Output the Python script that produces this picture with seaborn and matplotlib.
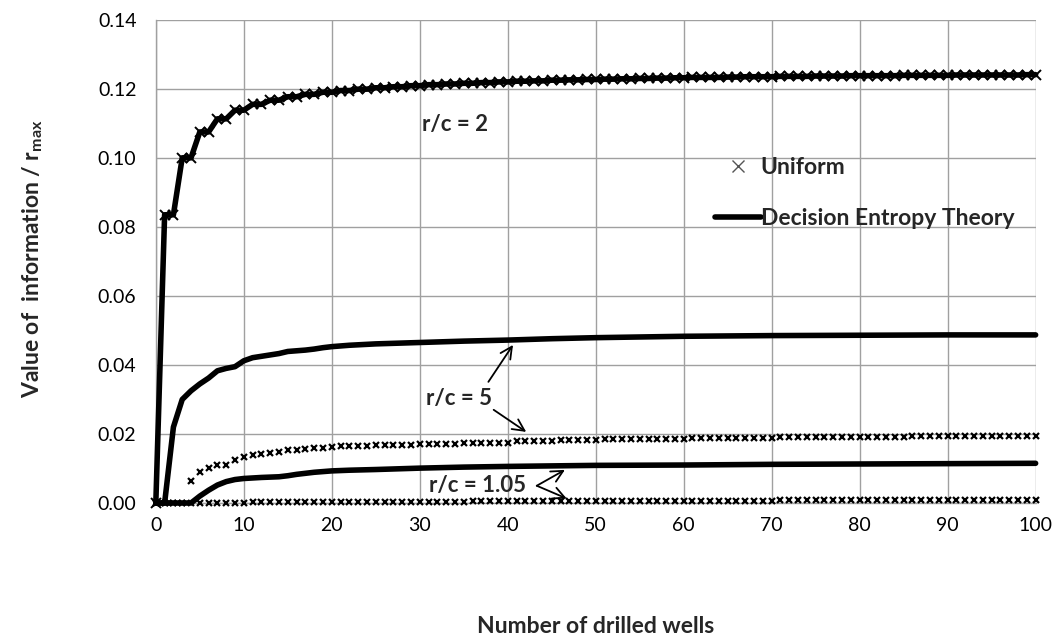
import matplotlib
matplotlib.use("Agg")
import matplotlib.pyplot as plt
import seaborn as sns
from matplotlib.lines import Line2D

# ---------------- data ----------------
wells = list(range(0, 101))

uniform_rc2 = [
    0.0000,
    0.0835, 0.0835, 0.1000, 0.1000, 0.1075, 0.1075, 0.1113, 0.1113, 0.1138, 0.1138,
    0.1155, 0.1155, 0.1167, 0.1167, 0.1177, 0.1177, 0.1184, 0.1184, 0.1190, 0.1190,
    0.1195, 0.1195, 0.1199, 0.1199, 0.1203, 0.1203, 0.1206, 0.1206, 0.1209, 0.1209,
    0.1212, 0.1212, 0.1214, 0.1214, 0.1216, 0.1216, 0.1218, 0.1218, 0.1220, 0.1220,
    0.1222, 0.1222, 0.1223, 0.1223, 0.1225, 0.1225, 0.1226, 0.1226, 0.1227, 0.1227,
    0.1228, 0.1228, 0.1229, 0.1229, 0.1230, 0.1230, 0.1231, 0.1231, 0.1232, 0.1232,
    0.1233, 0.1233, 0.1233, 0.1233, 0.1234, 0.1234, 0.1235, 0.1235, 0.1235, 0.1235,
    0.1236, 0.1236, 0.1236, 0.1236, 0.1237, 0.1237, 0.1237, 0.1237, 0.1238, 0.1238,
    0.1238, 0.1238, 0.1238, 0.1238, 0.1239, 0.1239, 0.1239, 0.1239, 0.1239, 0.1239,
    0.1240, 0.1240, 0.1240, 0.1240, 0.1240, 0.1240, 0.1240, 0.1240, 0.1241, 0.1241,
]

uniform_rc5 = [
    0.0000, 0.0000, 0.0000, 0.0000, 0.0064, 0.0091, 0.0102, 0.0110, 0.0110, 0.0125,
    0.0134, 0.0139, 0.0141, 0.0144, 0.0149, 0.0154, 0.0154, 0.0156, 0.0159, 0.0159,
    0.0161, 0.0165, 0.0165, 0.0165, 0.0165, 0.0167, 0.0167, 0.0167, 0.0167, 0.0167,
    0.0170, 0.0170, 0.0170, 0.0170, 0.0170, 0.0173, 0.0173, 0.0173, 0.0173, 0.0173,
    0.0173, 0.0180, 0.0180, 0.0180, 0.0180, 0.0180, 0.0182, 0.0182, 0.0182, 0.0182,
    0.0182, 0.0186, 0.0186, 0.0186, 0.0186, 0.0186, 0.0186, 0.0186, 0.0186, 0.0186,
    0.0186, 0.0188, 0.0188, 0.0188, 0.0188, 0.0188, 0.0188, 0.0188, 0.0188, 0.0188,
    0.0188, 0.0190, 0.0190, 0.0190, 0.0190, 0.0190, 0.0190, 0.0190, 0.0190, 0.0190,
    0.0190, 0.0190, 0.0190, 0.0190, 0.0190, 0.0190, 0.0193, 0.0193, 0.0193, 0.0193,
    0.0193, 0.0193, 0.0193, 0.0193, 0.0193, 0.0193, 0.0193, 0.0193, 0.0193, 0.0193,
    0.0193,
]

uniform_rc105 = [
    0.0000, 0.0000, 0.0000, 0.0000, 0.0000, 0.0000, 0.0000, 0.0000, 0.0000, 0.0000,
    0.0000, 0.0002, 0.0002, 0.0002, 0.0002, 0.0002, 0.0002, 0.0002, 0.0002, 0.0002,
    0.0002, 0.0004, 0.0004, 0.0004, 0.0004, 0.0004, 0.0004, 0.0004, 0.0004, 0.0004,
    0.0004, 0.0004, 0.0004, 0.0004, 0.0004, 0.0004, 0.0006, 0.0006, 0.0006, 0.0006,
    0.0006, 0.0006, 0.0006, 0.0006, 0.0006, 0.0006, 0.0006, 0.0006, 0.0006, 0.0006,
    0.0006, 0.0007, 0.0007, 0.0007, 0.0007, 0.0007, 0.0007, 0.0007, 0.0007, 0.0007,
    0.0007, 0.0007, 0.0007, 0.0007, 0.0007, 0.0007, 0.0007, 0.0007, 0.0007, 0.0007,
    0.0007, 0.0008, 0.0008, 0.0008, 0.0008, 0.0008, 0.0008, 0.0008, 0.0008, 0.0008,
    0.0008, 0.0008, 0.0008, 0.0008, 0.0008, 0.0008, 0.0008, 0.0008, 0.0008, 0.0008,
    0.0008, 0.0008, 0.0008, 0.0008, 0.0008, 0.0008, 0.0008, 0.0008, 0.0008, 0.0008,
    0.0008,
]

# Decision Entropy Theory curve for r/c = 2 coincides with the uniform points
det_rc2 = list(uniform_rc2)

det_rc5_x = [0, 1, 2, 3, 4, 5, 6, 7, 8, 9, 10, 11, 12, 13, 14, 15, 16, 17, 18, 19, 20,
             22, 25, 30, 35, 40, 45, 50, 60, 70, 80, 90, 100]
det_rc5 = [0.0000, 0.0000, 0.0220, 0.0300, 0.0325, 0.0345, 0.0362, 0.0383, 0.0390, 0.0395,
           0.0412, 0.0421, 0.0425, 0.0429, 0.0433, 0.0439, 0.0441, 0.0443, 0.0446, 0.0450,
           0.0453, 0.0457, 0.0461, 0.0465, 0.0469, 0.0472, 0.0476, 0.0479, 0.0483, 0.0485,
           0.0486, 0.0487, 0.0487]

det_rc105_x = [0, 1, 2, 3, 4, 5, 6, 7, 8, 9, 10, 12, 14, 15, 16, 17, 18, 20, 22, 25,
               30, 35, 40, 50, 60, 70, 80, 90, 100]
det_rc105 = [0.0000, 0.0000, 0.0000, 0.0000, 0.0000, 0.0020, 0.0037, 0.0052, 0.0062, 0.0068,
             0.0071, 0.0074, 0.0076, 0.0079, 0.0083, 0.0086, 0.0089, 0.0093, 0.0095, 0.0097,
             0.0101, 0.0104, 0.0106, 0.0109, 0.0110, 0.0112, 0.0113, 0.0114, 0.0115]

x_ticks = [0, 10, 20, 30, 40, 50, 60, 70, 80, 90, 100]
y_ticks = [0.00, 0.02, 0.04, 0.06, 0.08, 0.10, 0.12, 0.14]
x_label = "Number of drilled wells"
y_label = "Value of  information / r$_{\\mathregular{max}}$"
legend_labels = ["Uniform", "Decision Entropy Theory"]

# ---------------- style ----------------
sns.set_theme(style="white")
plt.rcParams["font.family"] = ["Lato", "DejaVu Sans"]
plt.rcParams["mathtext.fontset"] = "custom"
plt.rcParams["mathtext.rm"] = "Lato"

fig, ax = plt.subplots(figsize=(10.6, 6.38), dpi=100)
fig.subplots_adjust(left=0.147, right=0.977, top=0.969, bottom=0.2116)

LW = 4.0
for xs, ys in [(wells, det_rc2), (det_rc5_x, det_rc5), (det_rc105_x, det_rc105)]:
    sns.lineplot(x=xs, y=ys, ax=ax, color="black", linewidth=LW, zorder=3,
                 solid_joinstyle="round", clip_on=False)

sns.lineplot(x=wells, y=uniform_rc2, ax=ax, color="black", linestyle="none",
             marker="x", markersize=7, markeredgewidth=1.4, markeredgecolor="black",
             zorder=4, clip_on=False)
for ys in [uniform_rc5, uniform_rc105]:
    sns.lineplot(x=wells, y=ys, ax=ax, color="black", linestyle="none",
                 marker="x", markersize=4.5, markeredgewidth=1.6,
                 markeredgecolor="black", zorder=4, clip_on=False)

ax.set_xlim(0, 100)
ax.set_ylim(0, 0.14)
ax.set_xticks(x_ticks)
ax.set_yticks(y_ticks)
ax.set_yticklabels([f"{v:.2f}" for v in y_ticks])
ax.set_xticklabels([str(v) for v in x_ticks])

grid_c = "#a0a0a0"
ax.grid(True, color=grid_c, linewidth=1.0)
ax.set_axisbelow(True)
for s in ["top", "right"]:
    ax.spines[s].set_visible(False)
for s in ["left", "bottom"]:
    ax.spines[s].set_color(grid_c)
    ax.spines[s].set_linewidth(1.0)
ax.tick_params(axis="both", which="major", direction="out", length=6, width=1.0,
               color=grid_c, labelsize=14, labelcolor="black")
ax.tick_params(axis="x", pad=4)
ax.tick_params(axis="y", pad=8)

ax.set_xlabel(x_label, fontsize=16.5, fontweight="bold", labelpad=59)
ax.set_ylabel(y_label, fontsize=16.5, fontweight="bold")
ax.yaxis.set_label_coords(-0.126, 0.505)

# legend
handles = [
    Line2D([], [], color="#555555", linestyle="none", marker="x", markersize=9,
           markeredgewidth=1.0),
    Line2D([], [], color="black", linewidth=LW),
]
ax.legend(handles, legend_labels, loc="upper left", bbox_to_anchor=(0.612, 0.758),
          frameon=False, prop={"weight": "bold", "size": 16.5}, handlelength=2.0,
          handletextpad=0.0, labelspacing=1.3)

# annotations
txt_kw = dict(fontsize=16, fontweight="bold", ha="center", va="center")
ax.text(34, 0.1096, "r/c = 2", **txt_kw)
ax.text(34.5, 0.0304, "r/c = 5", **txt_kw)
ax.text(36.6, 0.0052, "r/c = 1.05", **txt_kw)

arr = dict(arrowstyle="->,head_length=0.7,head_width=0.35", color="black", lw=1.3,
           shrinkA=0, shrinkB=0)
ax.annotate("", xy=(40.6, 0.0458), xytext=(37.8, 0.0351), arrowprops=arr)
ax.annotate("", xy=(42.1, 0.0206), xytext=(38.4, 0.0270), arrowprops=arr)
ax.annotate("", xy=(46.5, 0.0096), xytext=(43.3, 0.0050), arrowprops=arr)
ax.annotate("", xy=(46.7, 0.0013), xytext=(43.3, 0.0050), arrowprops=arr)

fig.savefig("out.png", dpi=100)
